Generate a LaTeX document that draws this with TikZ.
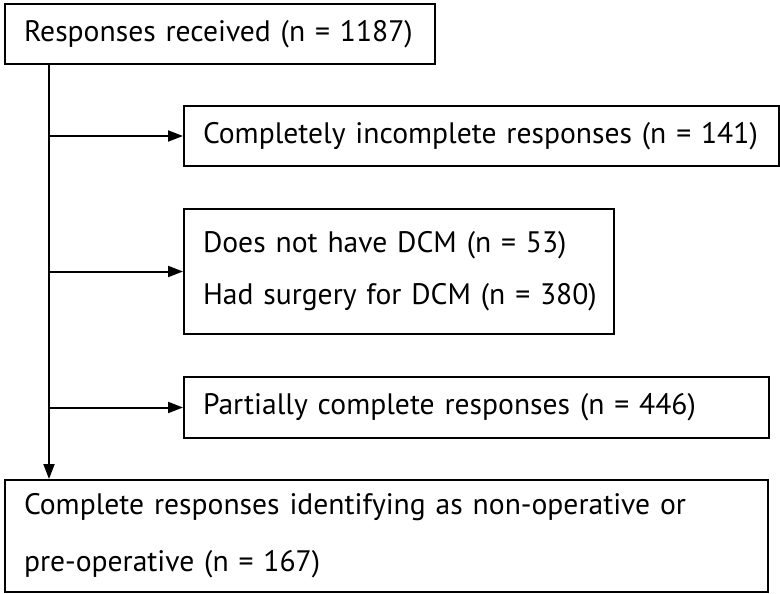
\documentclass[tikz,border=0pt]{standalone}
\usepackage{fontspec}
\setmainfont{PT Sans}
\usetikzlibrary{arrows.meta}
\tikzset{
  box/.style={draw, line width=2pt, anchor=north west, align=left, inner xsep=19pt, inner ysep=0pt,
    font=\fontsize{29.6}{52}\selectfont},
  flow/.style={line width=2pt, -{Triangle[length=15pt,width=11pt]}}
}
\begin{document}
\begin{tikzpicture}[x=1pt,y=-1pt]
\useasboundingbox (0,0) rectangle (780,594);
% boxes
\node[box, text width=392pt, minimum height=60pt] (recv) at (4,3) {\mbox{Responses received (n = 1187)}};
\node[box, text width=557pt, minimum height=60pt] (incompl) at (183,105) {\mbox{Completely incomplete responses (n = 141)}};
\node[box, text width=392pt, minimum height=125pt] (excl) at (183,208)
  {\mbox{Does not have DCM (n = 53)}\\\mbox{Had surgery for DCM (n = 380)}};
\node[box, text width=547pt, minimum height=61pt] (partial) at (183,376) {\mbox{Partially complete responses (n = 446)}};
\node[box, text width=725pt, minimum height=112pt, font=\fontsize{29.6}{57}\selectfont] (final) at (4,479)
  {\mbox{Complete responses identifying as non-operative or}\\\mbox{pre-operative (n = 167)}};
% connectors
\coordinate (trunk) at ([xshift=45pt]recv.south west);
\draw[flow] (trunk) -- (trunk |- final.north);
\draw[flow] (trunk |- incompl.west) -- (incompl.west);
\draw[flow] (trunk |- excl.west) -- (excl.west);
\draw[flow] (trunk |- partial.west) -- (partial.west);
\end{tikzpicture}
\end{document}
